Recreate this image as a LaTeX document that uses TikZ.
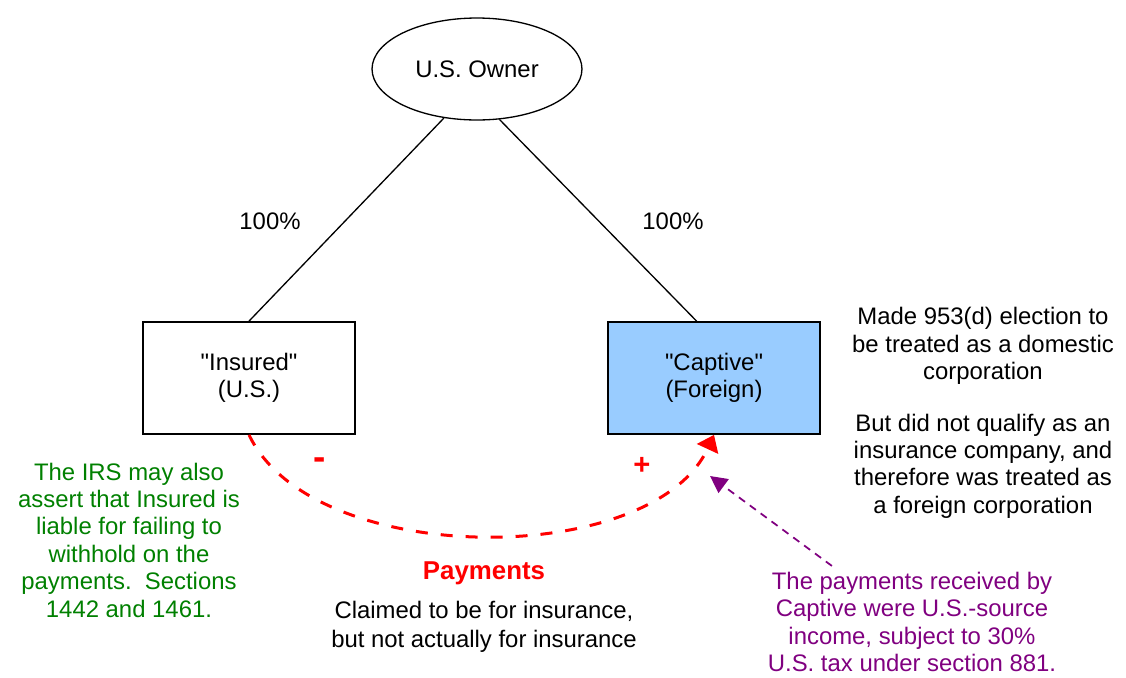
\documentclass[tikz,border=0pt]{standalone}
\usepackage{fontspec}
\setmainfont{Liberation Sans}
\usetikzlibrary{shapes.geometric,arrows.meta}

\definecolor{captiveblue}{RGB}{153,204,255}
\definecolor{irsgreen}{RGB}{0,128,0}
\definecolor{notepurple}{RGB}{128,0,128}

\begin{document}
\begin{tikzpicture}[x=0.02cm, y=-0.02cm,
        every node/.style={font=\fontsize{13.6}{15.6}\selectfont},
        entity/.style={draw, line width=1pt, minimum width=4.24cm, minimum height=2.24cm, align=center},
        note/.style={align=center},
        sign/.style={text=red, font=\fontsize{16.6}{19}\selectfont\bfseries},
        payment/.style={red, line width=0.06cm, dash pattern=on 0.24cm off 0.26cm, -{Triangle[length=0.31cm,width=0.46cm]}},
        sourcearrow/.style={notepurple, line width=1pt, dash pattern=on 0.15cm off 0.12cm, -{Triangle[length=0.34cm,width=0.34cm]}}]
        \useasboundingbox (0,0) rectangle (1126,677);

        % Nodes
        \node[draw, ellipse, line width=0.75pt, minimum width=4.2cm, minimum height=2.04cm] (UsOwner) at (477, 69) {U.S. Owner};
        \node[entity] (Insured) at (249, 378) {\textquotedbl Insured\textquotedbl\\(U.S.)};
        \node[entity, fill=captiveblue] (Captive) at (714, 378) {\textquotedbl Captive\textquotedbl\\(Foreign)};
        \node (LeftShare) at (270, 221) {100\%};
        \node (RightShare) at (673, 221) {100\%};
        \node[note] (ElectionNote) at (983, 346) {Made 953(d) election to\\be treated as a domestic\\corporation};
        \node[note] (QualifyNote) at (983, 466) {But did not qualify as an\\insurance company, and\\therefore was treated as\\a foreign corporation};
        \node[note, text=irsgreen] (WithholdNote) at (129, 540) {The IRS may also\\assert that Insured is\\liable for failing to\\withhold on the\\payments.\ \ Sections\\1442 and 1461.};
        \node[sign, font=\fontsize{21}{24}\selectfont\bfseries] (Minus) at (320, 464) {-};
        \node[sign] (Plus) at (642, 466) {+};
        \node[sign, font=\fontsize{14.7}{17}\selectfont\bfseries] (PaymentsLabel) at (484, 573) {Payments};
        \node[note, font=\fontsize{13.6}{16.2}\selectfont] (ClaimNote) at (484, 627) {Claimed to be for insurance,\\but not actually for insurance};
        \node[note, text=notepurple] (SourceNote) at (912, 622) {The payments received by\\Captive were U.S.-source\\income, subject to 30\%\\U.S. tax under section 881.};
        \coordinate (SourceTip) at (710, 476);

        % Lines
        \draw[line width=0.75pt] (UsOwner.236) -- (Insured.north);
        \draw[line width=0.75pt] (UsOwner.294) -- (Captive.107);

        % Arrows
        \draw[payment] (Insured.south) .. controls (313, 569) and (652, 569) .. (Captive.south);
        \draw[sourcearrow] (SourceNote.145) -- (SourceTip);
    \end{tikzpicture}
\end{document}
